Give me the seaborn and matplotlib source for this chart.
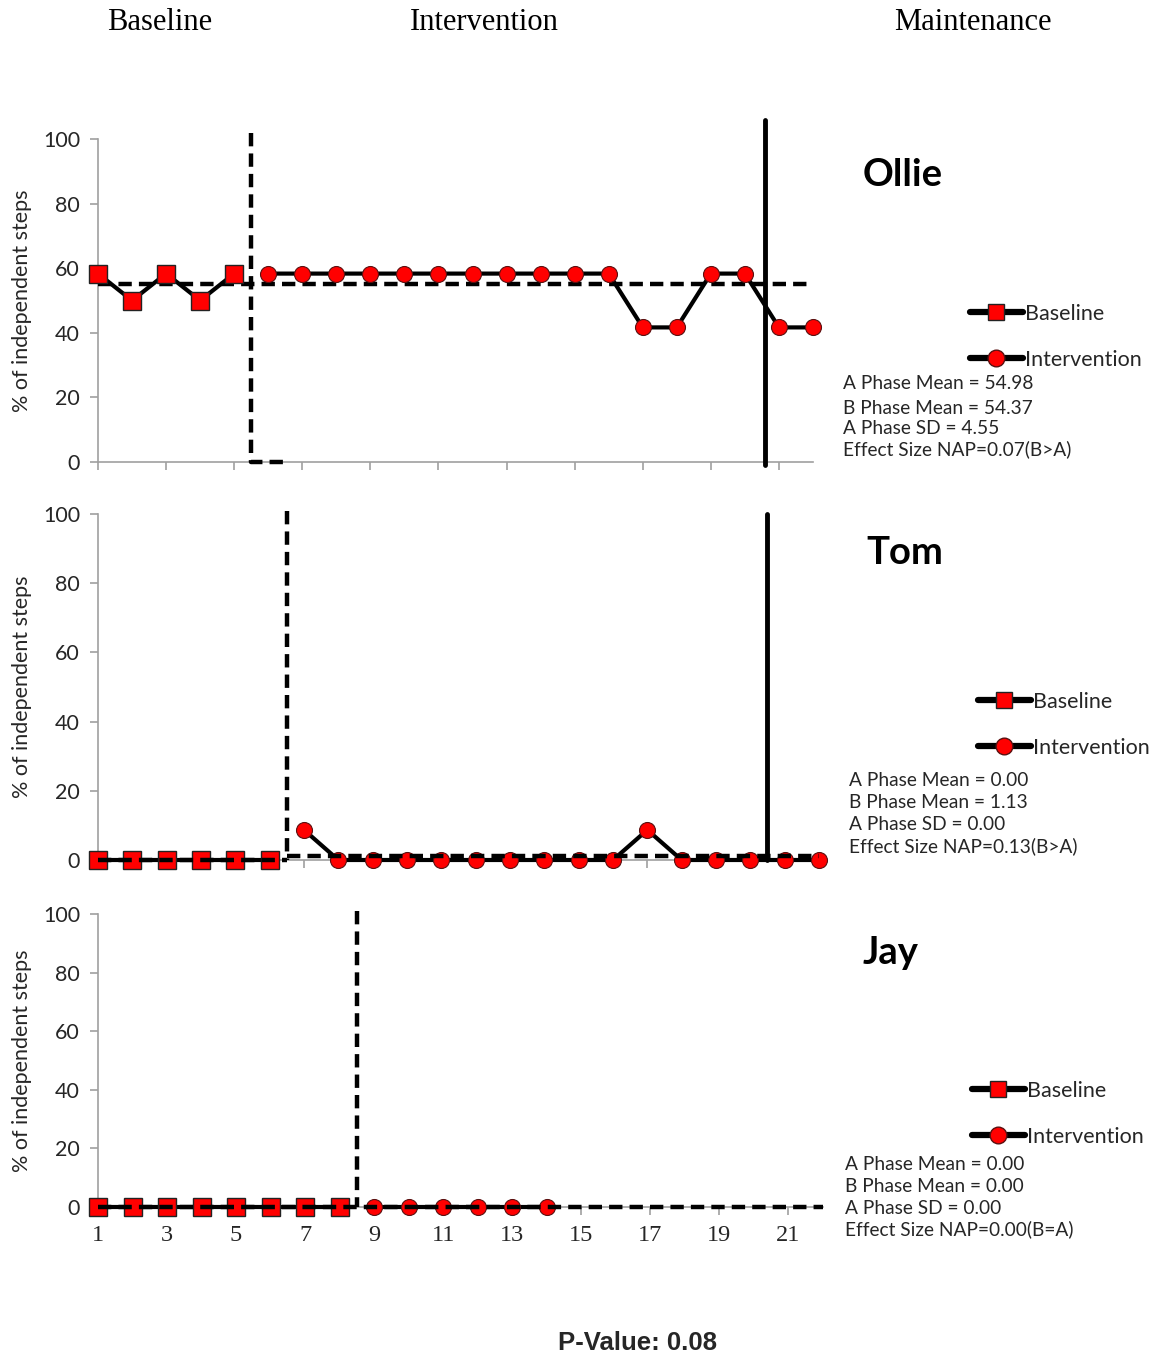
import matplotlib
matplotlib.use("Agg")
import matplotlib.pyplot as plt
from matplotlib.lines import Line2D
import seaborn as sns
import pandas as pd

sns.set_theme(style="white")
plt.rcParams["font.family"] = ["Lato", "DejaVu Sans"]

# ---- data -------------------------------------------------------------
ollie_base_x = [1, 2, 3, 4, 5]
ollie_base_y = [58.33, 50.0, 58.33, 50.0, 58.33]
ollie_int_x = [6, 7, 8, 9, 10, 11, 12, 13, 14, 15, 16, 17, 18, 19, 20, 21, 22]
ollie_int_y = [58.33, 58.33, 58.33, 58.33, 58.33, 58.33, 58.33, 58.33, 58.33,
               58.33, 58.33, 41.67, 41.67, 58.33, 58.33, 41.67, 41.67]

tom_base_x = [1, 2, 3, 4, 5, 6]
tom_base_y = [0, 0, 0, 0, 0, 0]
tom_int_x = [7, 8, 9, 10, 11, 12, 13, 14, 15, 16, 17, 18, 19, 20, 21, 22]
tom_int_y = [8.7, 0, 0, 0, 0, 0, 0, 0, 0, 0, 8.7, 0, 0, 0, 0, 0]

jay_base_x = [1, 2, 3, 4, 5, 6, 7, 8]
jay_base_y = [0, 0, 0, 0, 0, 0, 0, 0]
jay_int_x = [9, 10, 11, 12, 13, 14]
jay_int_y = [0, 0, 0, 0, 0, 0]

names = ["Ollie", "Tom", "Jay"]
a_means = [54.98, 0.00, 0.00]
b_means = [54.37, 1.13, 0.00]
a_sds = [4.55, 0.00, 0.00]
naps = ["0.07(B>A)", "0.13(B>A)", "0.00(B=A)"]
phase_change = [5.5, 6.5, 8.5]
maintenance_start = [20.6, 20.5, None]

x_ticks = [1, 3, 5, 7, 9, 11, 13, 15, 17, 19, 21]
y_ticks = [0, 20, 40, 60, 80, 100]
phase_labels = ["Baseline", "Intervention", "Maintenance"]
p_value = "P-Value: 0.08"

# ---- figure -------------------------------------------------------------
W, H = 1160, 1357
fig = plt.figure(figsize=(W / 100, H / 100), dpi=100)

def fx(px):
    return px / W

def fy(py):
    return 1 - py / H

# axes boxes (left, right, top, bottom) in pixels
boxes = [(98, 813, 139, 462), (98, 819, 514, 860), (98, 823, 914, 1207)]

text_col = "#262626"
spine_col = "#a0a0a0"
red = "#ff0000"

series = [
    (ollie_base_x, ollie_base_y, ollie_int_x, ollie_int_y),
    (tom_base_x, tom_base_y, tom_int_x, tom_int_y),
    (jay_base_x, jay_base_y, jay_int_x, jay_int_y),
]

legend_pos = [(970, 304), (978, 692), (972, 1081)]
stats_pos = [(843, [384, 409, 429, 449]), (849, [780, 803, 825, 846]),
             (845, [1165, 1186, 1208, 1229])]
title_pos = [(903, 175), (905, 553), (890, 953)]

dash = (3.0, 1.6)

for i, (l, r, t, b) in enumerate(boxes):
    ax = fig.add_axes([fx(l), fy(b), fx(r - l), (b - t) / H])
    bx, by, ix, iy = series[i]
    base_df = pd.DataFrame({"session": bx, "value": by})
    int_df = pd.DataFrame({"session": ix, "value": iy})

    # mean lines and phase-change lines
    pc = phase_change[i]
    if i == 0:
        ax.plot([1, 22], [a_means[0], a_means[0]], color="black", lw=3.2,
                dashes=dash, zorder=3, clip_on=False)
        ax.plot([pc, pc, pc + 1], [102, 0, 0], color="black", lw=3.2,
                dashes=dash, zorder=3, clip_on=False)
    elif i == 1:
        ax.plot([1, pc], [a_means[1], a_means[1]], color="black", lw=3.2,
                dashes=dash, zorder=5, clip_on=False)
        ax.plot([pc, 22], [b_means[1], b_means[1]], color="black", lw=3.2,
                dashes=dash, zorder=5, clip_on=False)
        ax.plot([pc, pc], [101, 0], color="black", lw=3.2,
                dashes=dash, zorder=5, clip_on=False)
    else:
        ax.plot([1, 22], [a_means[2], a_means[2]], color="black", lw=3.2,
                dashes=dash, zorder=5, clip_on=False)
        ax.plot([pc, pc], [101, 0], color="black", lw=3.2,
                dashes=dash, zorder=5, clip_on=False)

    ms = maintenance_start[i]
    if ms is not None:
        top = 106 if i == 0 else 100
        bot = -1 if i == 0 else 0
        ax.plot([ms, ms], [bot, top], color="black", lw=3.5, zorder=6,
                clip_on=False)

    sns.lineplot(data=base_df, x="session", y="value", ax=ax, color="black",
                 lw=3, marker="s", markersize=12.5, markerfacecolor=red,
                 markeredgecolor="#222222", markeredgewidth=1.0, zorder=4,
                 clip_on=False)
    sns.lineplot(data=int_df, x="session", y="value", ax=ax, color="black",
                 lw=3, marker="o", markersize=11.5, markerfacecolor=red,
                 markeredgecolor="#5a1010", markeredgewidth=0.8, zorder=4,
                 clip_on=False)

    ax.set_xlim(1, 22)
    ax.set_ylim(0, 100)
    ax.set_xticks(x_ticks)
    ax.set_yticks(y_ticks)
    ax.set_xlabel("")
    ax.set_ylabel("% of independent steps", fontsize=15.5, color=text_col,
                  labelpad=8)
    for side in ["top", "right"]:
        ax.spines[side].set_visible(False)
    for side in ["left", "bottom"]:
        ax.spines[side].set_color(spine_col)
        ax.spines[side].set_linewidth(1.2)
    ax.tick_params(axis="both", direction="out", length=6, width=1.2,
                   color=spine_col, labelcolor=text_col, bottom=True,
                   left=True)
    ax.tick_params(axis="y", labelsize=15.5, pad=7)
    if i == 2:
        ax.set_xticklabels([str(v) for v in x_ticks],
                           fontfamily="Liberation Serif", fontsize=17.5)
        ax.tick_params(axis="x", pad=7)
    else:
        ax.set_xticklabels([])
    ax.patch.set_alpha(0)

    # participant name
    tx, ty = title_pos[i]
    fig.text(fx(tx), fy(ty), names[i], fontsize=27.5, fontweight="bold",
             ha="center", va="center", color="black")

    # legend
    handles = [
        Line2D([], [], color="black", lw=4.5, marker="s", markersize=12,
               markerfacecolor=red, markeredgecolor="#222222"),
        Line2D([], [], color="black", lw=4.5, marker="o", markersize=12,
               markerfacecolor=red, markeredgecolor="#5a1010"),
    ]
    lx, ly = legend_pos[i]
    ax.legend(handles, ["Baseline", "Intervention"], loc="upper left",
              bbox_to_anchor=(fx(lx), fy(ly)), bbox_transform=fig.transFigure,
              frameon=False, borderpad=0, borderaxespad=0, fontsize=15.5,
              handlelength=2.45, handletextpad=0.1, labelspacing=1.2,
              labelcolor=text_col)

    # phase statistics
    sx, sys_ = stats_pos[i]
    lines = [f"A Phase Mean = {a_means[i]:.2f}",
             f"B Phase Mean = {b_means[i]:.2f}",
             f"A Phase SD = {a_sds[i]:.2f}",
             f"Effect Size NAP={naps[i]}"]
    for txt, yy in zip(lines, sys_):
        fig.text(fx(sx), fy(yy), txt, fontsize=13.8, color=text_col,
                 ha="left", va="center")

# phase headings
for label, px in zip(phase_labels, [160, 484, 973]):
    fig.text(fx(px), fy(23), label, fontsize=22, fontfamily="Liberation Serif",
             ha="center", va="center", color="black")

fig.text(fx(638), fy(1343), p_value, fontsize=18.5, fontweight="bold",
         fontfamily="Liberation Sans", ha="center", va="center",
         color=text_col)

fig.savefig("out.png", dpi=100)
